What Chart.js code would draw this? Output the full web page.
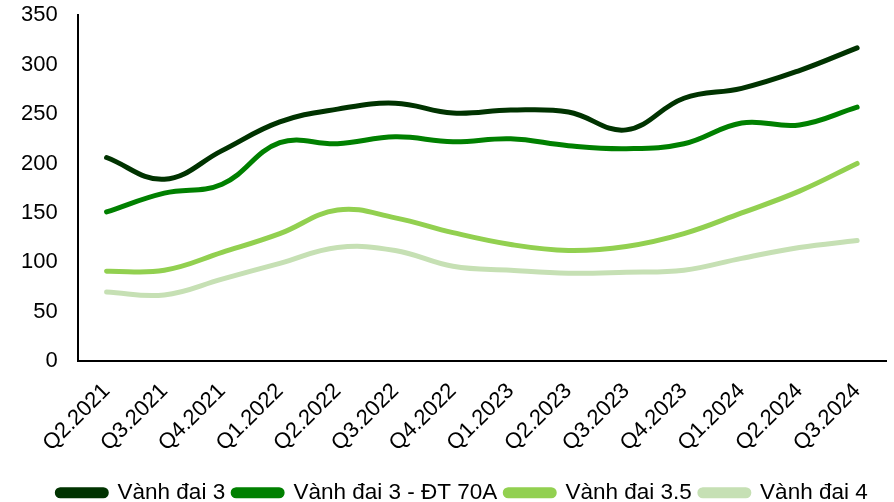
<!DOCTYPE html>
<html>
<head>
<meta charset="utf-8">
<script src="https://cdn.jsdelivr.net/npm/chart.js@4"></script>
<style>
html,body{margin:0;padding:0;background:#fff;overflow:hidden;}
#wrap{width:894px;height:502px;position:relative;overflow:hidden;}
</style>
</head>
<body>
<div id="wrap"><canvas id="c" width="894" height="514"></canvas></div>
<script>
const categories = ["Q2.2021","Q3.2021","Q4.2021","Q1.2022","Q2.2022","Q3.2022","Q4.2022","Q1.2023","Q2.2023","Q3.2023","Q4.2023","Q1.2024","Q2.2024","Q3.2024"];
const seriesNames = ["Vành đai 3","Vành đai 3 - ĐT 70A","Vành đai 3.5","Vành đai 4"];
const vanhDai3 = [206, 184, 213, 242, 255, 261, 251, 254, 252, 234, 266, 276, 294, 317];
const vanhDai3DT70A = [151, 170, 179, 221, 220, 227, 222, 225, 218, 215, 220, 241, 239, 257];
const vanhDai35 = [91, 92, 110, 129, 153, 145, 130, 118, 112, 116, 129, 150, 172, 200];
const vanhDai4 = [70, 67, 83, 99, 115, 112, 96, 92, 89, 90, 92, 104, 115, 122];
const yTicks = [0, 50, 100, 150, 200, 250, 300, 350];

const colors = ["#003300", "#008000", "#92D050", "#C6E0B4"];
const values = [vanhDai3, vanhDai3DT70A, vanhDai35, vanhDai4];

const FONT = "'Liberation Sans', Arial, sans-serif";
Chart.defaults.font.family = FONT;
Chart.defaults.color = "#000";

const shiftLegend = {
  id: "shiftLegend",
  afterLayout(chart) {
    const l = chart.legend;
    if (l) { l.left += 10; l.right += 10; }
  }
};

new Chart(document.getElementById("c"), {
  type: "line",
  data: {
    labels: categories,
    datasets: seriesNames.map((n, i) => ({
      label: n,
      data: values[i],
      borderColor: colors[i],
      backgroundColor: colors[i],
      borderWidth: 5,
      pointRadius: 0,
      pointHoverRadius: 0,
      tension: 0.4,
      borderCapStyle: "round",
      fill: false
    }))
  },
  plugins: [shiftLegend],
  options: {
    responsive: false,
    animation: false,
    layout: { padding: { top: 2, right: 8, left: 19, bottom: 0 } },
    plugins: {
      legend: {
        position: "bottom",
        labels: {
          boxWidth: 49,
          boxHeight: 6,
          useBorderRadius: true,
          borderRadius: 3,
          padding: 8,
          font: { size: 22.5 },
          color: "#000"
        }
      },
      tooltip: { enabled: false }
    },
    scales: {
      x: {
        offset: true,
        grid: { display: true, drawOnChartArea: false, drawTicks: true, tickLength: 11, color: "rgba(0,0,0,0)" },
        border: { display: true, color: "#000", width: 2 },
        ticks: { font: { size: 22 }, color: "#000", minRotation: 45, maxRotation: 45, padding: 6, autoSkip: false },
        afterFit: (s) => { s.height += 11; }
      },
      y: {
        min: 0, max: 350,
        afterBuildTicks: (s) => { s.ticks = yTicks.map(v => ({ value: v })); },
        grid: { display: true, drawOnChartArea: false, drawTicks: true, tickLength: 18, color: "rgba(0,0,0,0)" },
        border: { display: true, color: "#000", width: 2 },
        ticks: { font: { size: 22 }, color: "#000", padding: 2 }
      }
    }
  }
});
</script>
</body>
</html>
